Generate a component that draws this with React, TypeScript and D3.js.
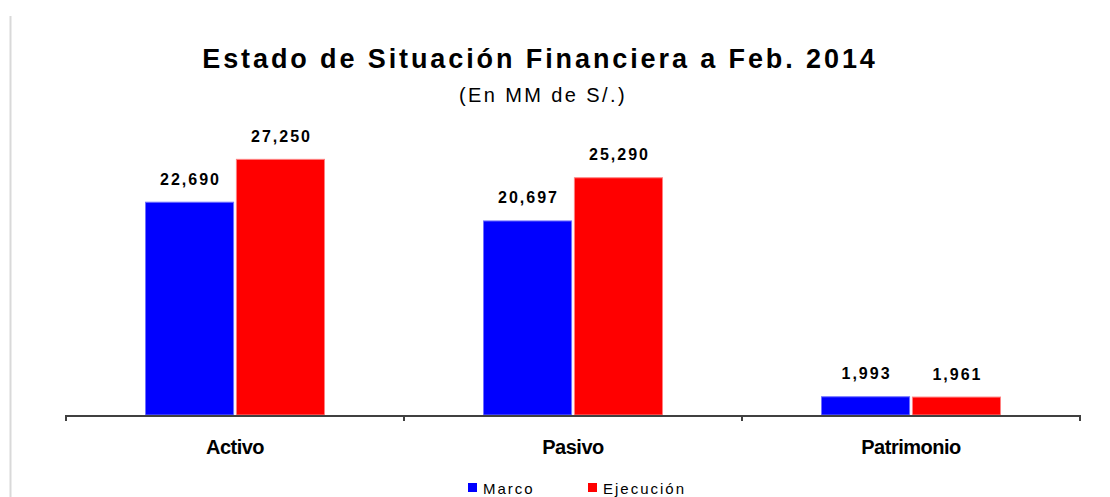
import React, { useRef, useEffect } from 'react';
import * as d3 from 'd3';

const categories = ['Activo', 'Pasivo', 'Patrimonio'];
const seriesNames = ['Marco', 'Ejecución'];
const marco = [22690, 20697, 1993];
const ejecucion = [27250, 25290, 1961];
const seriesColors = ['#0000ff', '#ff0000'];
const seriesBorders = ['#7070ff', '#ff8080'];

const App: React.FC = () => {
  const svgRef = useRef<SVGSVGElement>(null);

  useEffect(() => {
    if (!svgRef.current) return;
    const width = 1110;
    const height = 497;
    const svg = d3.select(svgRef.current);
    svg.selectAll('*').remove();

    const axisY = 415;
    const x0 = d3.scaleBand<string>().domain(categories).range([66, 1080]).paddingInner(0).paddingOuter(0);
    const x1 = d3.scaleBand<string>().domain(seriesNames).range([0, 180]).paddingInner(0.02);
    const y = d3.scaleLinear().domain([0, 30000]).range([axisY, axisY - 282]);

    svg.append('rect').attr('width', width).attr('height', height).attr('fill', '#fff');

    // left border line
    svg.append('line')
      .attr('x1', 10.5).attr('x2', 10.5).attr('y1', 16).attr('y2', height)
      .attr('stroke', '#d9d9d9').attr('stroke-width', 2);

    // title
    svg.append('text')
      .attr('x', 540).attr('y', 68)
      .attr('text-anchor', 'middle')
      .style('font-family', 'Liberation Sans, Arial, sans-serif')
      .style('font-size', '27px')
      .style('font-weight', 'bold')
      .style('letter-spacing', '2.9px')
      .attr('fill', '#000')
      .text('Estado de Situación Financiera a Feb. 2014');

    svg.append('text')
      .attr('x', 543).attr('y', 102)
      .attr('text-anchor', 'middle')
      .style('font-family', 'Liberation Sans, Arial, sans-serif')
      .style('font-size', '20px')
      .style('letter-spacing', '2.4px')
      .attr('fill', '#000')
      .text('(En MM de S/.)');

    const data = categories.map((c, i) => ({ cat: c, values: [marco[i], ejecucion[i]] }));

    const groups = svg.append('g').selectAll('g')
      .data(data)
      .join('g')
      .attr('transform', d => `translate(${(x0(d.cat) as number) + x0.bandwidth() / 2 - 90},0)`);

    groups.selectAll('rect')
      .data(d => d.values.map((v, j) => ({ v, j })))
      .join('rect')
      .attr('x', d => (x1(seriesNames[d.j]) as number) + 0.5)
      .attr('y', d => y(d.v) + 0.5)
      .attr('width', x1.bandwidth() - 1)
      .attr('height', d => axisY - y(d.v) - 0.5)
      .attr('fill', d => seriesColors[d.j])
      .attr('stroke', d => seriesBorders[d.j])
      .attr('stroke-width', 1);

    groups.selectAll('text.val')
      .data(d => d.values.map((v, j) => ({ v, j })))
      .join('text')
      .attr('class', 'val')
      .attr('x', d => (x1(seriesNames[d.j]) as number) + x1.bandwidth() / 2 + 1)
      .attr('y', d => y(d.v) - 17)
      .attr('text-anchor', 'middle')
      .style('font-family', 'Liberation Sans, Arial, sans-serif')
      .style('font-size', '16px')
      .style('font-weight', 'bold')
      .style('letter-spacing', '2px')
      .attr('fill', '#000')
      .text(d => d3.format(',')(d.v));

    // axis
    svg.append('line')
      .attr('x1', 66).attr('x2', 1080).attr('y1', axisY + 1).attr('y2', axisY + 1)
      .attr('stroke', '#404040').attr('stroke-width', 2);
    const tickXs = [66, ...categories.map(c => (x0(c) as number) + x0.bandwidth())];
    svg.append('g').selectAll('line')
      .data(tickXs)
      .join('line')
      .attr('x1', d => d).attr('x2', d => d)
      .attr('y1', axisY).attr('y2', axisY + 6)
      .attr('stroke', '#404040').attr('stroke-width', 2);

    svg.append('g').selectAll('text')
      .data(categories)
      .join('text')
      .attr('x', d => (x0(d) as number) + x0.bandwidth() / 2)
      .attr('y', 454)
      .attr('text-anchor', 'middle')
      .style('font-family', 'Liberation Sans, Arial, sans-serif')
      .style('font-size', '20px')
      .style('font-weight', 'bold')
      .style('letter-spacing', '-0.5px')
      .attr('fill', '#000')
      .text(d => d);

    // legend
    const legendX = [468, 588];
    const legend = svg.append('g').selectAll('g')
      .data(seriesNames)
      .join('g')
      .attr('transform', (d, i) => `translate(${legendX[i]},488)`);
    legend.append('rect')
      .attr('x', 0).attr('y', -5).attr('width', 9).attr('height', 9)
      .attr('fill', (d, i) => seriesColors[i]);
    legend.append('text')
      .attr('x', 15).attr('y', 6)
      .style('font-family', 'Liberation Sans, Arial, sans-serif')
      .style('font-size', '15px')
      .style('letter-spacing', '2px')
      .attr('fill', '#000')
      .text(d => d);
  }, []);

  return (
    <div style={{ position: 'absolute', left: 0, top: 0, width: 1110, height: 497 }}>
      <svg ref={svgRef} width={1110} height={497}></svg>
    </div>
  );
};

export default App;
